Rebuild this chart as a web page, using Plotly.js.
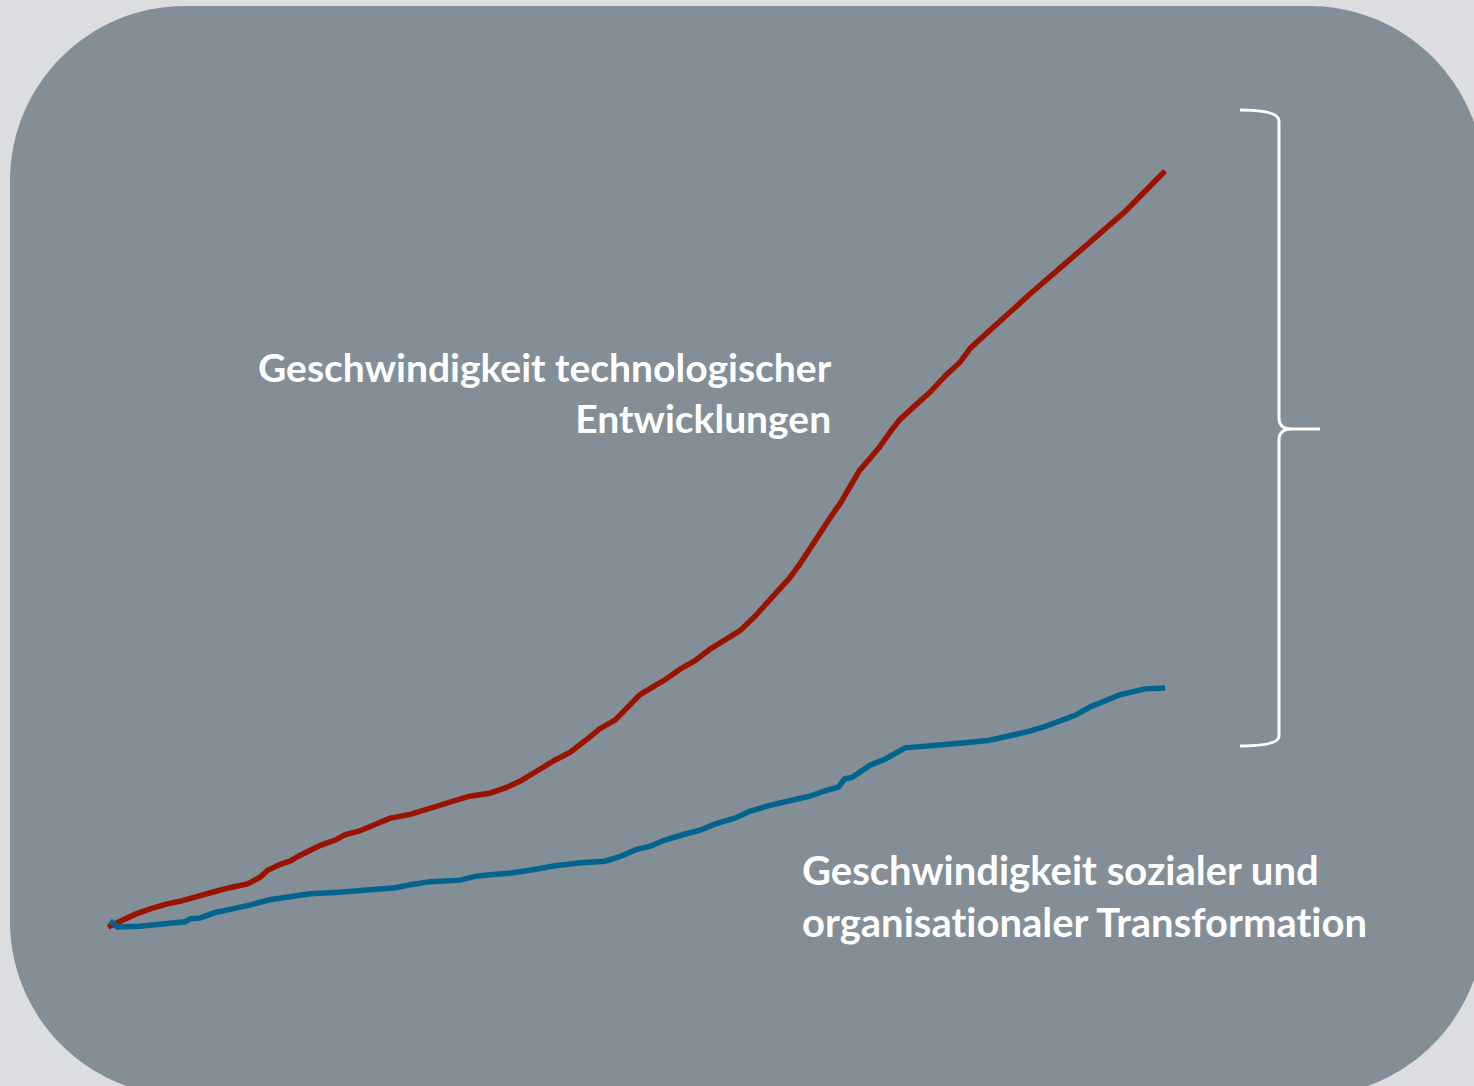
<!DOCTYPE html>
<html>
<head>
<meta charset="utf-8">
<script src="https://cdn.plot.ly/plotly-3.0.1.min.js"></script>
<style>html,body{margin:0;padding:0;background:#dcdde0;}#chart{width:1474px;height:1086px;}
text{font-variant-ligatures:none;font-feature-settings:"liga" 0,"clig" 0;}</style>
</head>
<body>
<div id="chart"></div>
<script>
// Technological development speed (relative units, time 0..100)
const techX = [0,1.1,2.6,4.0,5.4,6.8,8.2,9.6,11.5,13.2,14.4,15.1,16.3,17.2,18.2,19.1,20.1,21.5,22.4,23.8,25.3,26.7,28.6,30.0,30.9,32.8,34.2,36.1,37.6,39.0,39.9,40.9,42.3,43.7,45.1,46.5,48.0,48.9,50.3,51.7,52.7,54.1,55.5,57.0,58.4,59.8,61.2,62.2,63.1,64.5,65.5,66.4,67.4,68.3,69.3,70.2,71.1,72.1,73.0,74.0,74.9,76.3,77.8,79.2,80.6,81.6,83.0,84.4,85.8,87.2,89.1,91.0,92.9,94.8,96.2,97.6,99.1,100];
const techY = [0,0.8,1.7,2.4,3.0,3.4,4.0,4.5,5.2,5.7,6.6,7.5,8.3,8.7,9.5,10.1,10.8,11.5,12.2,12.7,13.6,14.4,14.9,15.5,16.0,16.7,17.3,17.7,18.4,19.3,20.0,20.9,22.1,23.1,24.6,26.2,27.4,28.6,30.7,31.9,32.7,34.1,35.2,36.8,38.1,39.2,41.1,42.6,44.2,46.2,48.1,50.1,52.2,54.1,56.1,58.1,60.4,62.0,63.5,65.5,67.1,68.9,70.8,72.9,74.7,76.6,78.4,80.3,82.0,83.7,86.0,88.4,90.6,92.9,94.6,96.6,98.7,100];
// Social / organisational transformation speed
const socX = [0.2,0.9,3.0,4.9,7.3,7.8,8.7,10.1,12.0,13.4,15.3,17.2,19.1,21.9,24.8,27.2,28.6,30.5,33.3,34.7,36.1,38.0,39.9,42.3,44.7,47.0,48.4,49.9,51.3,52.7,54.6,56.0,57.4,59.3,60.7,62.6,64.5,66.4,67.8,69.1,69.7,70.4,72.1,73.5,75.4,77.8,80.6,83.4,85.8,87.2,88.6,90.1,91.5,92.9,94.3,95.7,98.1,100];
const socY = [0.8,0,0.1,0.4,0.7,1.1,1.2,1.9,2.4,2.9,3.6,4.0,4.4,4.6,4.9,5.2,5.6,6.0,6.2,6.7,6.9,7.1,7.5,8.1,8.5,8.7,9.3,10.2,10.7,11.5,12.3,12.8,13.6,14.4,15.3,16.1,16.7,17.3,18.0,18.5,19.6,19.8,21.4,22.2,23.7,23.9,24.3,24.7,25.4,25.9,26.5,27.2,28.0,29.1,29.9,30.7,31.5,31.6];

const labelTech = "Geschwindigkeit technologischer<br>Entwicklungen";
const labelSoc = "Geschwindigkeit sozialer und<br>organisationaler Transformation";

const traces = [
  {x: techX, y: techY, type: 'scatter', mode: 'lines', line: {color: '#9a1300', width: 5.5}, hoverinfo: 'skip'},
  {x: socX, y: socY, type: 'scatter', mode: 'lines', line: {color: '#00648f', width: 5.5}, hoverinfo: 'skip'}
];

const k = 0.5523 * 175;
const bg = `M 185,6 L 1309,6 C ${1309+k},6 1484,${181-k} 1484,181 L 1484,921 C 1484,${921+k} ${1309+k},1096 1309,1096 L 185,1096 C ${185-k},1096 10,${921+k} 10,921 L 10,181 C 10,${181-k} ${185-k},6 185,6 Z`;
const brace = "M 1240,110 Q 1279,110 1279,121 L 1279,418 Q 1279,429 1292,429 L 1320,429 M 1292,429 Q 1279,429 1279,440 L 1279,736 Q 1279,746 1240,746";

const layout = {
  width: 1474, height: 1086,
  margin: {l: 0, r: 0, t: 0, b: 0},
  paper_bgcolor: '#dcdde0',
  plot_bgcolor: 'rgba(0,0,0,0)',
  showlegend: false,
  xaxis: {range: [-10.22, 129.23], visible: false, fixedrange: true},
  yaxis: {range: [-21.03, 122.62], visible: false, fixedrange: true},
  xaxis2: {range: [0, 1474], visible: false, overlaying: 'x', fixedrange: true},
  yaxis2: {range: [1086, 0], visible: false, overlaying: 'y', fixedrange: true},
  shapes: [
    {type: 'path', xref: 'x2', yref: 'y2', path: bg, fillcolor: '#838e97', line: {width: 0}, layer: 'below'},
    {type: 'path', xref: 'x2', yref: 'y2', path: brace, line: {color: '#ffffff', width: 3}, layer: 'above'}
  ],
  annotations: [
    {xref: 'x2', yref: 'y2', x: 834, y: 392, xanchor: 'right', yanchor: 'middle', align: 'right', showarrow: false,
     text: labelTech, font: {family: 'Lato, "Source Sans Pro", sans-serif', size: 39, color: '#ffffff', weight: 700}},
    {xref: 'x2', yref: 'y2', x: 800, y: 896, xanchor: 'left', yanchor: 'middle', align: 'left', showarrow: false,
     text: labelSoc, font: {family: 'Lato, "Source Sans Pro", sans-serif', size: 40, color: '#ffffff', weight: 700}}
  ]
};

Plotly.newPlot('chart', traces, layout, {displayModeBar: false, staticPlot: true});
</script>
</body>
</html>
